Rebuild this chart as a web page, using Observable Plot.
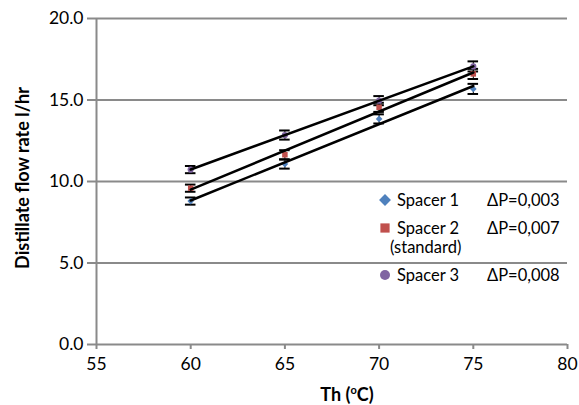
<!DOCTYPE html>
<html>
<head>
<meta charset="utf-8">
<script src="https://cdn.jsdelivr.net/npm/d3@7"></script>
<script src="https://cdn.jsdelivr.net/npm/@observablehq/plot@0.6"></script>
<style>
  html, body { margin: 0; padding: 0; background: white; }
  #chart svg { display: block; }
</style>
</head>
<body>
<div id="chart"></div>
<script>
// Data
const temperatures = [60, 65, 70, 75];
const spacer1 = [8.80, 11.07, 13.84, 15.68];
const spacer2 = [9.59, 11.64, 14.55, 16.60];
const spacer3 = [10.73, 12.85, 14.96, 17.06];
const errors = [0.22, 0.28, 0.28, 0.31];
const seriesNames = ["Spacer 1", "Spacer 2", "Spacer 3"];
const seriesPressure = ["ΔP=0,003", "ΔP=0,007", "ΔP=0,008"];
const seriesColors = ["#4F81BD", "#C0504D", "#8064A2"];
const seriesSymbols = ["diamond2", "square", "circle"];
const yTicks = [0, 5, 10, 15, 20];
const xTicks = [55, 60, 65, 70, 75, 80];

const seriesValues = [spacer1, spacer2, spacer3];
const rows = [];
seriesValues.forEach((vals, s) => {
  vals.forEach((v, i) => rows.push({series: seriesNames[s], x: temperatures[i], y: v, e: errors[i]}));
});

const grey = "#8a8a8a";
const capHalf = 0.28;
const symbolR = {"Spacer 1": 5.3, "Spacer 2": 5.7, "Spacer 3": 5.6};

const chart = Plot.plot({
  width: 579,
  height: 405,
  marginLeft: 96,
  marginRight: 12,
  marginTop: 18,
  marginBottom: 61,
  style: {fontFamily: "Lato", fontSize: "17.5px", color: "black", background: "white"},
  x: {domain: [55, 80]},
  y: {domain: [0, 20]},
  color: {domain: seriesNames, range: seriesColors},
  symbol: {domain: seriesNames, range: seriesSymbols},
  marks: [
    Plot.ruleY(yTicks.filter(d => d > 0), {stroke: grey, strokeWidth: 2, x1: 55, x2: 80}),
    Plot.ruleY([0], {stroke: grey, strokeWidth: 2}),
    Plot.ruleX([55], {stroke: grey, strokeWidth: 2}),
    Plot.axisY({ticks: yTicks, tickFormat: d => d.toFixed(1), tickSize: 9, tickPadding: 4, stroke: grey, strokeWidth: 2, label: null}),
    Plot.axisX({ticks: xTicks, tickFormat: d => String(d), tickSize: 5, tickPadding: 8, stroke: grey, strokeWidth: 2, label: null}),
    Plot.ruleX(rows, {x: "x", y1: d => d.y - d.e, y2: d => d.y + d.e, stroke: "black", strokeWidth: 1}),
    Plot.ruleY(rows, {y: d => d.y - d.e, x1: d => d.x - capHalf, x2: d => d.x + capHalf, stroke: "black", strokeWidth: 2}),
    Plot.ruleY(rows, {y: d => d.y + d.e, x1: d => d.x - capHalf, x2: d => d.x + capHalf, stroke: "black", strokeWidth: 2}),
    Plot.dot(rows, {x: "x", y: "y", fill: "series", symbol: "series", r: d => symbolR[d.series]}),
    Plot.linearRegressionY(rows, {x: "x", y: "y", z: "series", stroke: "black", strokeWidth: 2.5, ci: 0})
  ]
});

document.getElementById("chart").appendChild(chart);

const svg = d3.select(chart);
// Axis titles
svg.append("text")
  .attr("transform", "translate(22,178) rotate(-90)")
  .attr("text-anchor", "middle")
  .attr("dominant-baseline", "central")
  .attr("font-family", "Lato").attr("font-weight", "bold").attr("font-size", 18)
  .attr("fill", "black")
  .text("Distillate flow rate l/hr");

const xt = svg.append("text")
  .attr("x", 347).attr("y", 401)
  .attr("text-anchor", "middle")
  .attr("font-family", "Lato").attr("font-weight", "bold").attr("font-size", 18)
  .attr("fill", "black");
xt.append("tspan").text("Th (");
xt.append("tspan").attr("font-size", 11).attr("dy", -7).text("o");
xt.append("tspan").attr("dy", 7).text("C)");

// Legend
const legendY = [200, 228, 275];
const legendSize = [90, 85, 78];
const lg = svg.append("g").attr("font-family", "Lato").attr("font-size", 16.5)
  .attr("fill", "black").attr("text-anchor", "start");
seriesNames.forEach((name, i) => {
  const sym = i === 0 ? d3.symbolDiamond2 : i === 1 ? d3.symbolSquare : d3.symbolCircle;
  lg.append("path")
    .attr("d", d3.symbol(sym, legendSize[i])())
    .attr("transform", `translate(385,${legendY[i]})`)
    .attr("fill", seriesColors[i]);
  lg.append("text").attr("x", 397).attr("y", legendY[i]).attr("dominant-baseline", "central").text(name);
  lg.append("text").attr("x", 487).attr("y", legendY[i]).attr("dominant-baseline", "central").text(seriesPressure[i]);
});
lg.append("text").attr("x", 390).attr("y", 247).attr("dominant-baseline", "central").text("(standard)");
</script>
</body>
</html>
